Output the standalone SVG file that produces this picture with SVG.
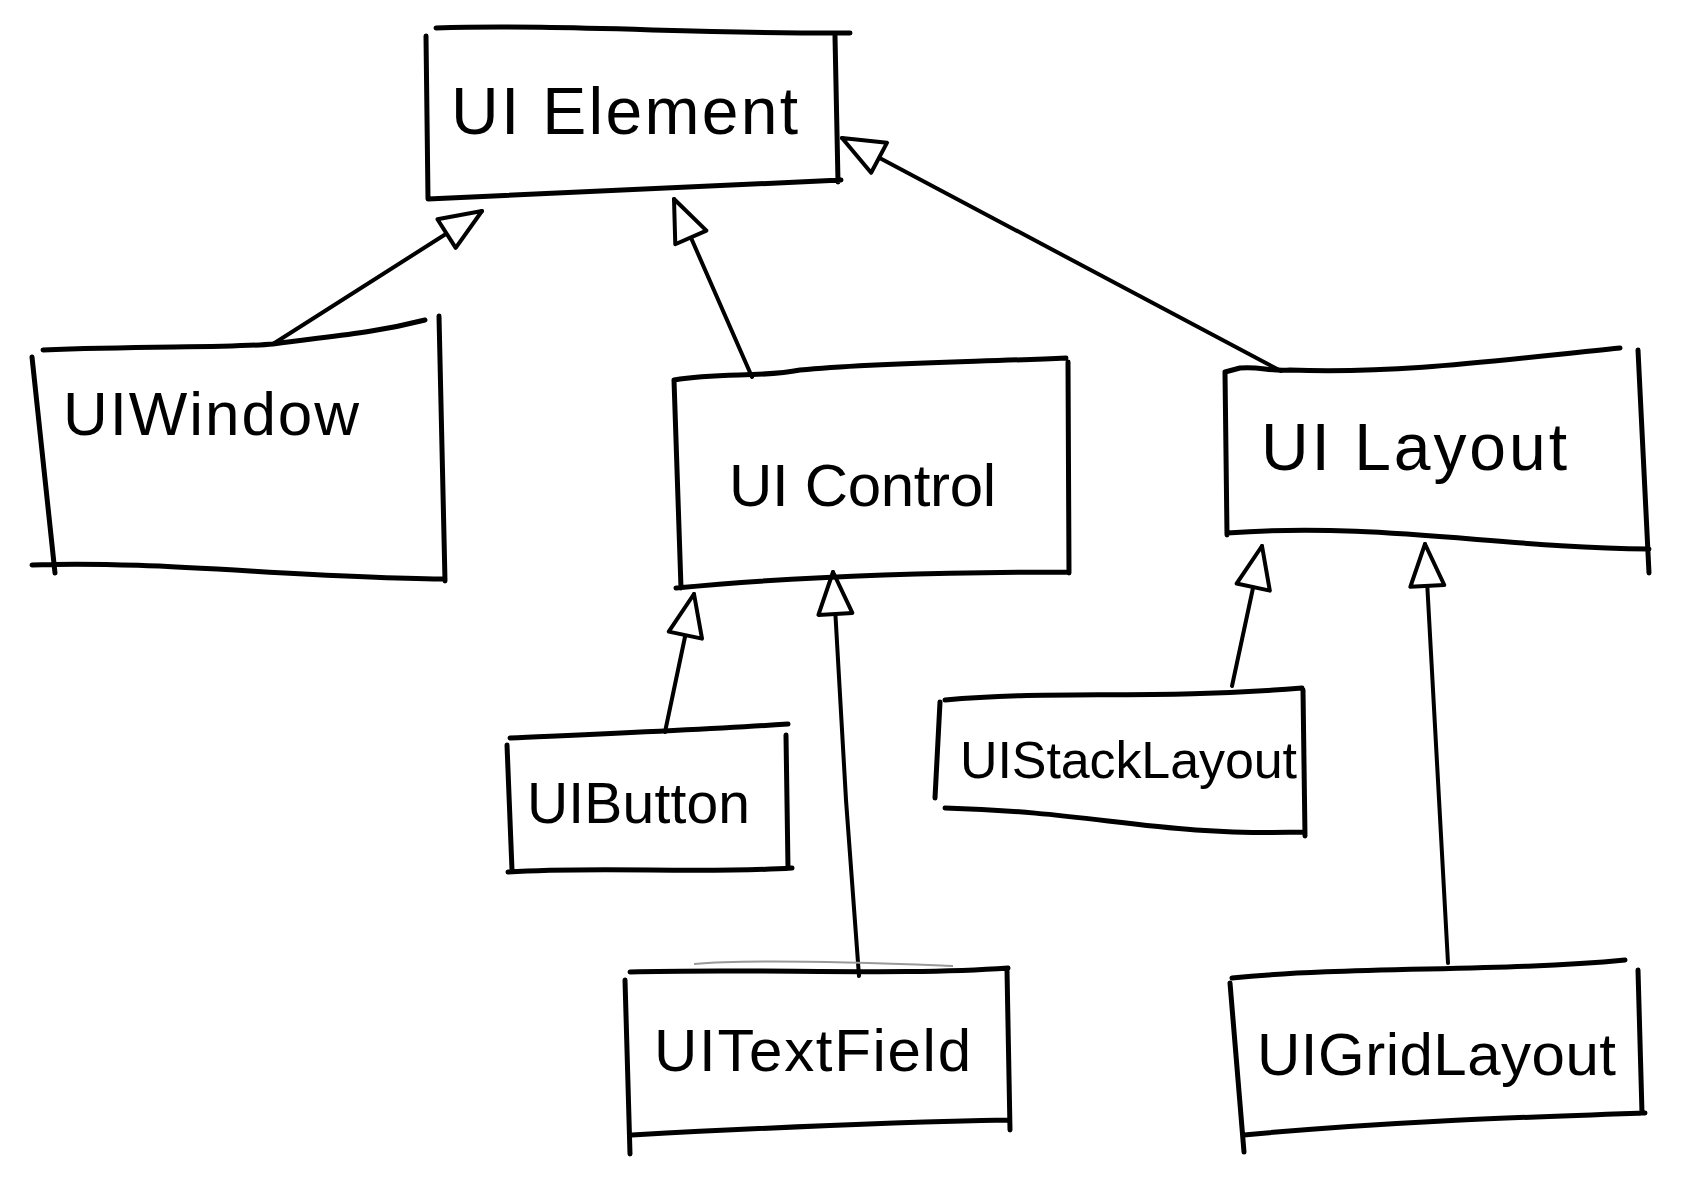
<svg xmlns="http://www.w3.org/2000/svg" width="1688" height="1194" viewBox="0 0 1688 1194">
<style>
.box{fill:none;stroke:#000;stroke-width:5;stroke-linecap:round;stroke-linejoin:round}
.conn{fill:none;stroke:#000;stroke-width:4;stroke-linecap:round}
.lbl{font-family:"Liberation Sans","DejaVu Sans",sans-serif;fill:#000}
</style>
<defs>
<marker id="tri" viewBox="-46 -22 50 44" refX="0" refY="0" markerWidth="50" markerHeight="44" markerUnits="userSpaceOnUse" orient="auto">
<path d="M0,0 L-42,-17 L-42,17 Z" fill="#fff" stroke="#000" stroke-width="4" stroke-linejoin="round"/>
</marker>
</defs>
<rect width="1688" height="1194" fill="#fff"/>
<g id="connectors">
<path class="conn" d="M273,344 L482,211" marker-end="url(#tri)"/>
<path class="conn" d="M752,377 L674,199" marker-end="url(#tri)"/>
<path class="conn" d="M1281,371 L842,138" marker-end="url(#tri)"/>
<path class="conn" d="M665,732 L694,594" marker-end="url(#tri)"/>
<path class="conn" d="M859,976 L846,800 L833,572" marker-end="url(#tri)"/>
<path class="conn" d="M1232,686 L1262,546" marker-end="url(#tri)"/>
<path class="conn" d="M1448,963 L1425,544" marker-end="url(#tri)"/>
</g>
<g id="UIElement">
<path class="box" d="M436,28 C560,24 700,34 850,33 M835,36 L838,182 M426,36 L428,199 M428,199 C560,194 700,186 841,180"/>
<text class="lbl" x="451" y="134" font-size="66" textLength="347" lengthAdjust="spacing">UI Element</text>
</g>
<g id="UIWindow">
<path class="box" d="M43,350 C150,346 230,348 273,344 C330,336 370,334 425,320 M32,357 L55,573 M439,316 L445,581 M32,565 C150,560 300,578 442,579"/>
<text class="lbl" x="63" y="435" font-size="62" textLength="296" lengthAdjust="spacing">UIWindow</text>
</g>
<g id="UIControl">
<path class="box" d="M674,380 C720,372 760,378 800,370 C880,362 980,362 1066,358 M674,380 L681,588 M1068,362 L1069,573 M676,588 C800,576 950,572 1069,572"/>
<text class="lbl" x="729" y="506" font-size="60" textLength="267" lengthAdjust="spacing">UI Control</text>
</g>
<g id="UILayout">
<path class="box" d="M1225,372 L1240,368 C1260,366 1270,372 1290,370 C1400,374 1500,360 1620,348 M1225,372 L1227,535 M1638,350 L1649,573 M1227,533 C1380,522 1500,548 1649,549"/>
<text class="lbl" x="1261" y="470" font-size="66" textLength="306" lengthAdjust="spacing">UI Layout</text>
</g>
<g id="UIButton">
<path class="box" d="M510,738 C600,734 700,730 788,724 M507,745 L512,870 M786,735 L788,868 M508,872 C600,866 700,874 792,868"/>
<text class="lbl" x="527" y="823" font-size="57" textLength="223" lengthAdjust="spacing">UIButton</text>
</g>
<g id="UITextField">
<path d="M694,964 C760,958 900,964 953,966" fill="none" stroke="#999" stroke-width="2"/>
<path class="box" d="M630,972 C750,968 900,976 1008,968 M625,980 L630,1154 M1007,970 L1010,1130 M632,1135 C760,1128 900,1122 1009,1120"/>
<text class="lbl" x="654" y="1071" font-size="60" textLength="317" lengthAdjust="spacing">UITextField</text>
</g>
<g id="UIStackLayout">
<path class="box" d="M945,700 C1050,690 1150,700 1302,688 M940,702 L935,798 M1303,690 L1305,836 M945,808 C1100,812 1150,836 1305,832"/>
<text class="lbl" x="960" y="778" font-size="52" textLength="337" lengthAdjust="spacing">UIStackLayout</text>
</g>
<g id="UIGridLayout">
<path class="box" d="M1232,978 C1350,966 1500,972 1625,960 M1230,983 L1244,1152 M1638,970 L1642,1113 M1244,1135 C1380,1122 1500,1118 1645,1113"/>
<text class="lbl" x="1257" y="1075" font-size="60" textLength="359" lengthAdjust="spacing">UIGridLayout</text>
</g>
</svg>
